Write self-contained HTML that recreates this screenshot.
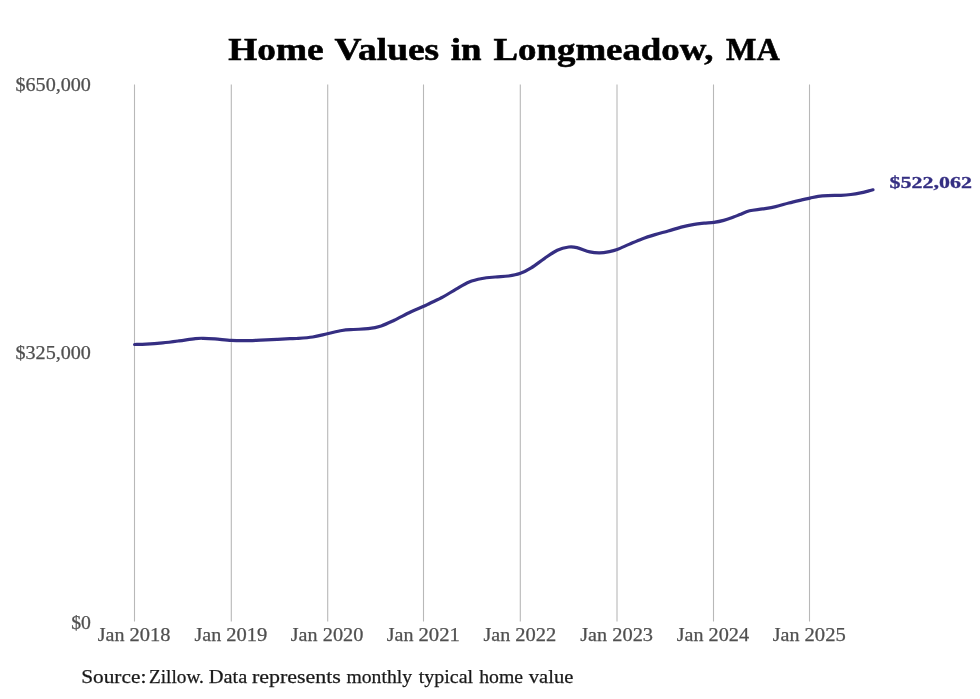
<!DOCTYPE html>
<html lang="en">
<head>
<meta charset="utf-8">
<title>Home Values in Longmeadow, MA</title>
<style>
html,body{margin:0;padding:0;background:#fff;}
body{width:980px;height:699px;overflow:hidden;font-family:"Liberation Serif",serif;}
svg{display:block;}
text{font-family:"Liberation Serif",serif;}
</style>
</head>
<body>
<svg width="980" height="699" viewBox="0 0 980 699">
<rect x="0" y="0" width="980" height="699" fill="#ffffff"/>
<defs><filter id="soft" x="0" y="0" width="980" height="699" filterUnits="userSpaceOnUse"><feGaussianBlur stdDeviation="0.45"/></filter></defs>
<g filter="url(#soft)">
<g stroke="#b8b8b8" stroke-width="1.1" fill="none">
<line x1="134.5" y1="84.5" x2="134.5" y2="621.5"/>
<line x1="231.3" y1="84.5" x2="231.3" y2="621.5"/>
<line x1="327.7" y1="84.5" x2="327.7" y2="621.5"/>
<line x1="423.5" y1="84.5" x2="423.5" y2="621.5"/>
<line x1="520.3" y1="84.5" x2="520.3" y2="621.5"/>
<line x1="617.0" y1="84.5" x2="617.0" y2="621.5"/>
<line x1="713.5" y1="84.5" x2="713.5" y2="621.5"/>
<line x1="809.5" y1="84.5" x2="809.5" y2="621.5"/>
</g>
<text x="228.25" y="59.7" font-size="31.00" fill="#000" stroke="#000" stroke-width="0.55" font-weight="bold" textLength="95.27" lengthAdjust="spacingAndGlyphs">Home</text>
<text x="334.52" y="59.7" font-size="31.00" fill="#000" stroke="#000" stroke-width="0.55" font-weight="bold" textLength="104.67" lengthAdjust="spacingAndGlyphs">Values</text>
<text x="450.82" y="59.7" font-size="31.00" fill="#000" stroke="#000" stroke-width="0.55" font-weight="bold" textLength="30.69" lengthAdjust="spacingAndGlyphs">in</text>
<text x="493.49" y="59.7" font-size="31.00" fill="#000" stroke="#000" stroke-width="0.55" font-weight="bold" textLength="220.08" lengthAdjust="spacingAndGlyphs">Longmeadow,</text>
<text x="725.99" y="59.7" font-size="31.00" fill="#000" stroke="#000" stroke-width="0.55" font-weight="bold" textLength="53.72" lengthAdjust="spacingAndGlyphs">MA</text>
<text x="15.44" y="91.0" font-size="17.90" fill="#505050" stroke="#505050" stroke-width="0.25" font-weight="normal" textLength="75.49" lengthAdjust="spacingAndGlyphs">$650,000</text>
<text x="15.44" y="359.0" font-size="17.90" fill="#505050" stroke="#505050" stroke-width="0.25" font-weight="normal" textLength="75.49" lengthAdjust="spacingAndGlyphs">$325,000</text>
<text x="71.23" y="629.0" font-size="17.90" fill="#505050" stroke="#505050" stroke-width="0.25" font-weight="normal" textLength="19.71" lengthAdjust="spacingAndGlyphs">$0</text>
<text x="97.75" y="640.7" font-size="17.90" fill="#505050" stroke="#505050" stroke-width="0.25" font-weight="normal" textLength="26.72" lengthAdjust="spacingAndGlyphs">Jan</text>
<text x="129.57" y="640.7" font-size="17.90" fill="#505050" stroke="#505050" stroke-width="0.25" font-weight="normal" textLength="40.95" lengthAdjust="spacingAndGlyphs">2018</text>
<text x="194.53" y="640.7" font-size="17.90" fill="#505050" stroke="#505050" stroke-width="0.25" font-weight="normal" textLength="26.75" lengthAdjust="spacingAndGlyphs">Jan</text>
<text x="226.15" y="640.7" font-size="17.90" fill="#505050" stroke="#505050" stroke-width="0.25" font-weight="normal" textLength="41.01" lengthAdjust="spacingAndGlyphs">2019</text>
<text x="290.82" y="640.7" font-size="17.90" fill="#505050" stroke="#505050" stroke-width="0.25" font-weight="normal" textLength="26.74" lengthAdjust="spacingAndGlyphs">Jan</text>
<text x="322.79" y="640.7" font-size="17.90" fill="#505050" stroke="#505050" stroke-width="0.25" font-weight="normal" textLength="40.55" lengthAdjust="spacingAndGlyphs">2020</text>
<text x="386.75" y="640.7" font-size="17.90" fill="#505050" stroke="#505050" stroke-width="0.25" font-weight="normal" textLength="26.72" lengthAdjust="spacingAndGlyphs">Jan</text>
<text x="418.53" y="640.7" font-size="17.90" fill="#505050" stroke="#505050" stroke-width="0.25" font-weight="normal" textLength="41.32" lengthAdjust="spacingAndGlyphs">2021</text>
<text x="483.53" y="640.7" font-size="17.90" fill="#505050" stroke="#505050" stroke-width="0.25" font-weight="normal" textLength="26.75" lengthAdjust="spacingAndGlyphs">Jan</text>
<text x="515.23" y="640.7" font-size="17.90" fill="#505050" stroke="#505050" stroke-width="0.25" font-weight="normal" textLength="40.99" lengthAdjust="spacingAndGlyphs">2022</text>
<text x="580.17" y="640.7" font-size="17.90" fill="#505050" stroke="#505050" stroke-width="0.25" font-weight="normal" textLength="26.82" lengthAdjust="spacingAndGlyphs">Jan</text>
<text x="612.24" y="640.7" font-size="17.90" fill="#505050" stroke="#505050" stroke-width="0.25" font-weight="normal" textLength="40.80" lengthAdjust="spacingAndGlyphs">2023</text>
<text x="676.75" y="640.7" font-size="17.90" fill="#505050" stroke="#505050" stroke-width="0.25" font-weight="normal" textLength="26.72" lengthAdjust="spacingAndGlyphs">Jan</text>
<text x="708.60" y="640.7" font-size="17.90" fill="#505050" stroke="#505050" stroke-width="0.25" font-weight="normal" textLength="40.48" lengthAdjust="spacingAndGlyphs">2024</text>
<text x="772.75" y="640.7" font-size="17.90" fill="#505050" stroke="#505050" stroke-width="0.25" font-weight="normal" textLength="26.72" lengthAdjust="spacingAndGlyphs">Jan</text>
<text x="804.55" y="640.7" font-size="17.90" fill="#505050" stroke="#505050" stroke-width="0.25" font-weight="normal" textLength="41.26" lengthAdjust="spacingAndGlyphs">2025</text>
<text x="889.55" y="188.3" font-size="17.60" fill="#342e82" stroke="#342e82" stroke-width="0.30" font-weight="bold" textLength="82.35" lengthAdjust="spacingAndGlyphs">$522,062</text>
<text x="81.18" y="683.4" font-size="19.20" fill="#1a1a1a" stroke="#1a1a1a" stroke-width="0.25" font-weight="normal" textLength="65.17" lengthAdjust="spacingAndGlyphs">Source:</text>
<text x="148.99" y="683.4" font-size="19.20" fill="#1a1a1a" stroke="#1a1a1a" stroke-width="0.25" font-weight="normal" textLength="54.95" lengthAdjust="spacingAndGlyphs">Zillow.</text>
<text x="208.84" y="683.4" font-size="19.20" fill="#1a1a1a" stroke="#1a1a1a" stroke-width="0.25" font-weight="normal" textLength="38.45" lengthAdjust="spacingAndGlyphs">Data</text>
<text x="251.90" y="683.4" font-size="19.20" fill="#1a1a1a" stroke="#1a1a1a" stroke-width="0.25" font-weight="normal" textLength="89.02" lengthAdjust="spacingAndGlyphs">represents</text>
<text x="346.52" y="683.4" font-size="19.20" fill="#1a1a1a" stroke="#1a1a1a" stroke-width="0.25" font-weight="normal" textLength="65.50" lengthAdjust="spacingAndGlyphs">monthly</text>
<text x="418.80" y="683.4" font-size="19.20" fill="#1a1a1a" stroke="#1a1a1a" stroke-width="0.25" font-weight="normal" textLength="54.24" lengthAdjust="spacingAndGlyphs">typical</text>
<text x="479.18" y="683.4" font-size="19.20" fill="#1a1a1a" stroke="#1a1a1a" stroke-width="0.25" font-weight="normal" textLength="43.84" lengthAdjust="spacingAndGlyphs">home</text>
<text x="528.81" y="683.4" font-size="19.20" fill="#1a1a1a" stroke="#1a1a1a" stroke-width="0.25" font-weight="normal" textLength="44.55" lengthAdjust="spacingAndGlyphs">value</text>
<path d="M134.60,344.50 C136.55,344.45 141.62,344.47 146.30,344.20 C150.98,343.93 157.25,343.45 162.70,342.90 C168.15,342.35 173.57,341.62 179.00,340.90 C184.43,340.18 191.22,339.03 195.30,338.60 C199.38,338.17 200.23,338.25 203.50,338.30 C206.77,338.35 210.28,338.55 214.90,338.90 C219.52,339.25 226.30,340.10 231.20,340.40 C236.10,340.70 239.40,340.75 244.30,340.70 C249.20,340.65 255.17,340.32 260.60,340.10 C266.03,339.88 272.00,339.63 276.90,339.40 C281.80,339.17 286.77,338.85 290.00,338.70 C293.23,338.55 292.52,338.78 296.30,338.50 C300.08,338.22 307.53,337.78 312.70,337.00 C317.87,336.22 322.42,334.88 327.30,333.80 C332.18,332.72 337.63,331.22 342.00,330.50 C346.37,329.78 349.13,329.80 353.50,329.50 C357.87,329.20 363.58,329.30 368.20,328.70 C372.82,328.10 376.85,327.32 381.20,325.90 C385.55,324.48 389.40,322.52 394.30,320.20 C399.20,317.88 405.70,314.32 410.60,312.00 C415.50,309.68 420.47,307.77 423.70,306.30 C426.93,304.83 426.77,304.77 430.00,303.20 C433.23,301.63 438.75,299.25 443.10,296.90 C447.45,294.55 451.75,291.60 456.10,289.10 C460.45,286.60 464.85,283.67 469.20,281.90 C473.55,280.13 477.85,279.32 482.20,278.50 C486.55,277.68 490.93,277.42 495.30,277.00 C499.67,276.58 504.32,276.57 508.40,276.00 C512.48,275.43 516.00,274.95 519.80,273.60 C523.60,272.25 527.12,270.40 531.20,267.90 C535.28,265.40 539.95,261.55 544.30,258.60 C548.65,255.65 553.22,252.13 557.30,250.20 C561.38,248.27 565.53,247.43 568.80,247.00 C572.07,246.57 573.40,246.78 576.90,247.60 C580.40,248.42 586.02,251.02 589.80,251.90 C593.58,252.78 596.33,252.95 599.60,252.90 C602.87,252.85 606.47,252.17 609.40,251.60 C612.33,251.03 613.93,250.70 617.20,249.50 C620.47,248.30 624.87,246.17 629.00,244.40 C633.13,242.63 637.65,240.53 642.00,238.90 C646.35,237.27 650.73,235.92 655.10,234.60 C659.47,233.28 663.85,232.25 668.20,231.00 C672.55,229.75 676.85,228.22 681.20,227.10 C685.55,225.98 690.48,224.95 694.30,224.30 C698.12,223.65 700.83,223.52 704.10,223.20 C707.37,222.88 710.63,222.87 713.90,222.40 C717.17,221.93 720.43,221.28 723.70,220.40 C726.97,219.52 730.82,218.07 733.50,217.10 C736.18,216.13 737.12,215.65 739.80,214.60 C742.48,213.55 745.78,211.75 749.60,210.80 C753.42,209.85 758.35,209.60 762.70,208.90 C767.05,208.20 771.35,207.58 775.70,206.60 C780.05,205.62 784.45,204.12 788.80,203.00 C793.15,201.88 798.27,200.72 801.80,199.90 C805.33,199.08 807.27,198.68 810.00,198.10 C812.73,197.52 815.20,196.82 818.20,196.40 C821.20,195.98 824.20,195.78 828.00,195.60 C831.80,195.42 837.20,195.48 841.00,195.30 C844.80,195.12 847.53,194.90 850.80,194.50 C854.07,194.10 857.60,193.50 860.60,192.90 C863.60,192.30 866.73,191.42 868.80,190.90 C870.87,190.38 872.30,189.98 873.00,189.80" fill="none" stroke="#342e82" stroke-width="3.2" stroke-linecap="round" stroke-linejoin="round"/>
</g>
</svg>
</body>
</html>
